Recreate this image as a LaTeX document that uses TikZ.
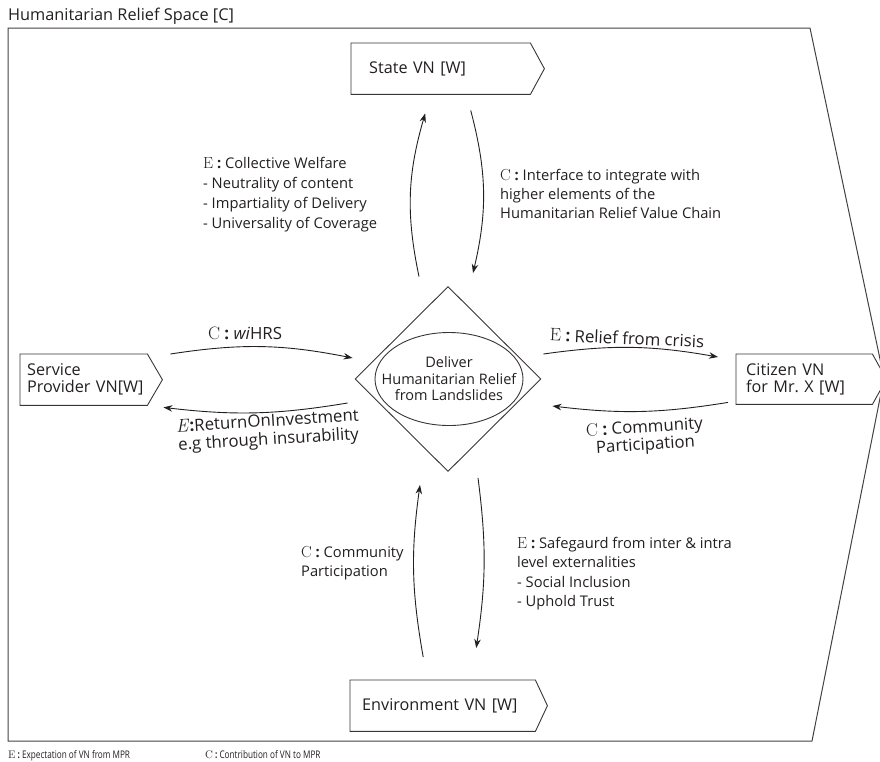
\documentclass[tikz,border=0pt]{standalone}
\usepackage{fontspec}
\setsansfont{Open Sans}
\newfontfamily\condsans{Open Sans}[FakeStretch=0.78]
\usetikzlibrary{shapes.geometric,arrows.meta}
\definecolor{ink}{HTML}{231F20}
\newcommand\ltrE{{\rmfamily\fontsize{16}{15}\selectfont E}}
\newcommand\ltrC{{\rmfamily\fontsize{16}{15}\selectfont C}}
\newcommand\bigE{{\rmfamily\fontsize{18}{15}\selectfont E}}
\newcommand\bigC{{\rmfamily\fontsize{18}{15}\selectfont C}}
\newcommand\bigEi{{\rmfamily\itshape\fontsize{18.5}{15}\selectfont E}}
\begin{document}
\begin{tikzpicture}[x=1pt,y=-1pt,
  every node/.style={text=ink, inner sep=0pt, font=\sffamily\fontsize{14.7}{19}\selectfont},
  vnbox/.style={inner ysep=0pt, align=left, anchor=north west, font=\sffamily\fontsize{16.2}{17}\selectfont},
  shapeline/.style={draw=ink!90, line width=0.9pt},
  arr/.style={draw=ink, line width=0.9pt, -{Stealth[length=9pt,width=6.5pt]}},
  lbl/.style={align=left, anchor=north west},
  hlbl/.style={align=center, font=\sffamily\fontsize{16.8}{17}\selectfont},
]
\useasboundingbox (0,0) rectangle (880,761);
% frame
\draw[draw=ink!85, line width=1pt] (8,28) -- (810,28) -- (884,378) -- (812,741) -- (8,741) -- cycle;
\node[anchor=base west, font=\sffamily\fontsize{16.3}{18}\selectfont] (title) at (8,20.5) {Humanitarian Relief Space [C]};

% VN boxes
\node[vnbox, inner xsep=18pt, text width=143pt, minimum height=51pt] (state) at (351,43) {State~VN~[W]};
\draw[shapeline] (state.north west) -- (state.north east) -- ([xshift=14pt]state.east) -- (state.south east) -- (state.south west) -- cycle;

\node[vnbox, inner xsep=7pt, text width=113pt, minimum height=51pt] (svc) at (20,354) {Service\\Provider~VN[W]};
\draw[shapeline] (svc.north west) -- (svc.north east) -- ([xshift=15pt]svc.east) -- (svc.south east) -- (svc.south west) -- cycle;

\node[vnbox, inner xsep=10pt, text width=116pt, minimum height=50pt] (cit) at (736,354) {Citizen~VN\\for~Mr.~X~[W]};
\draw[shapeline] (cit.north west) -- (cit.north east) -- ([xshift=14pt]cit.east) -- (cit.south east) -- (cit.south west) -- cycle;

\node[vnbox, inner xsep=12pt, text width=161pt, minimum height=51pt] (env) at (350,680) {Environment~VN~[W]};
\draw[shapeline] (env.north west) -- (env.north east) -- ([xshift=12pt]env.east) -- (env.south east) -- (env.south west) -- cycle;

% centre
\node[diamond, shapeline, minimum width=186pt, minimum height=185pt] (dia) at (448,379) {};
\node[ellipse, shapeline, inner xsep=-16pt, inner ysep=0pt, minimum width=148pt, minimum height=93pt, align=center,
      font=\sffamily\fontsize{14.5}{16.5}\selectfont] (goal) at (449,379) {Deliver\\Humanitarian Relief\\from Landslides};

% vertical arrows (state)
\draw[arr] ([xshift=-29pt,yshift=9.5pt]dia.north) to[bend left=14] ([xshift=-15.5pt,yshift=-19pt]state.south);
\draw[arr] ([xshift=30pt,yshift=-16pt]state.south) to[bend left=14] ([xshift=25pt,yshift=13pt]dia.north);
% horizontal arrows
\draw[arr] ([xshift=23pt]svc.north east) to[bend left=10] ([xshift=-2pt,yshift=21pt]dia.west);
\draw[arr] ([xshift=-7pt,yshift=-24pt]dia.west) to[bend left=8] ([xshift=16pt,yshift=-2pt]svc.south east);
\draw[arr] ([xshift=2pt,yshift=25pt]dia.east) to[bend left=9] ([xshift=-18pt,yshift=-3pt]cit.north west);
\draw[arr] ([xshift=-8pt,yshift=2pt]cit.south west) to[bend left=8] ([xshift=11pt,yshift=-27pt]dia.east);
% vertical arrows (environment)
\draw[arr] ([xshift=-19.5pt,yshift=23pt]env.north) to[bend left=9] ([xshift=-28pt,yshift=-13pt]dia.south);
\draw[arr] ([xshift=30pt,yshift=-6pt]dia.south) to[bend left=8] ([xshift=33.5pt,yshift=32pt]env.north);

% labels
\node[lbl, font=\sffamily\fontsize{14.7}{20}\selectfont] (lblEw) at (203,154) {\strut\ltrE{} \textbf{:} Collective Welfare\\- Neutrality of content\\- Impartiality of Delivery\\- Universality of Coverage};
\node[lbl] (lblCi) at (500,166.7) {\strut\ltrC{} \textbf{:} Interface to integrate with\\higher elements of the\\Humanitarian Relief Value Chain};
\node[hlbl, anchor=base] (lblwi) at (245,339.5) {\bigC{} \textbf{:} \textit{wi}HRS};
\node[hlbl, rotate=3.5, font=\sffamily\fontsize{16.8}{18.5}\selectfont] (lblroi) at (268,431.5) {\bigEi{}\textbf{:}ReturnOnInvestment\\e.g through insurability};
\node[hlbl, rotate=-2.5] (lblrel) at (627,338) {\bigE{} \textbf{:} Relief from crisis};
\node[hlbl, rotate=3.5, font=\sffamily\fontsize{16.8}{17.5}\selectfont] (lblcom) at (645,437) {\bigC{} \textbf{:} Community\\Participation};
\node[lbl] (lblcom2) at (301,543.7) {\strut\ltrC{} \textbf{:} Community\\Participation};
\node[lbl, font=\sffamily\fontsize{14.7}{19.5}\selectfont] (lblsafe) at (517,534.4) {\strut\ltrE{} \textbf{:} Safegaurd from inter \& intra\\level externalities\\- Social Inclusion\\- Uphold Trust};

% legend
\node[anchor=base west, font=\condsans\fontsize{10.5}{12}\selectfont] (legE) at (8,758) {{\rmfamily\fontsize{11}{12}\selectfont E} \textbf{:} Expectation of VN from MPR};
\node[anchor=base west, font=\condsans\fontsize{10.5}{12}\selectfont] (legC) at (205,758) {{\rmfamily\fontsize{11}{12}\selectfont C} \textbf{:} Contribution of VN to MPR};
\end{tikzpicture}
\end{document}
